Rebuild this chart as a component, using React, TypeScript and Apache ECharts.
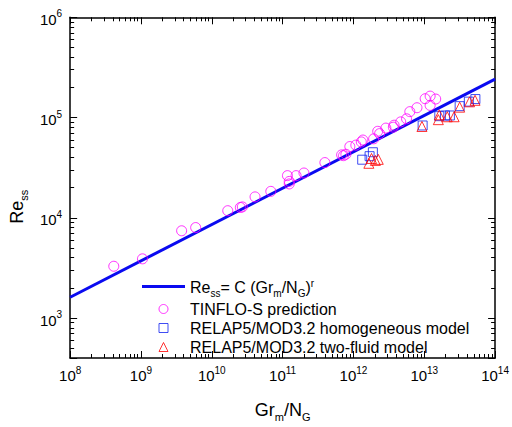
import React, { useEffect, useRef } from 'react';
import * as echarts from 'echarts';

const FONT = '"Liberation Sans", Arial, Helvetica, sans-serif';

// Correlation line Re_ss = C (Gr_m/N_G)^r (end points)
const fitX = [1e8, 1e14];
const fitY = [1615, 242000];

// TINFLO-S prediction
const tinfloX = [
  4.13e8, 1.05e9, 3.75e9, 5.92e9, 1.68e10, 2.53e10, 2.7e10, 4.08e10, 6.81e10,
  1.17e11, 1.24e11, 1.24e11, 1.55e11, 2.0e11, 3.95e11, 6.81e11, 7.24e11, 7.82e11,
  8.89e11, 1.08e12, 1.29e12, 1.36e12, 1.93e12, 2.2e12, 2.34e12, 2.87e12, 3.66e12,
  3.75e12, 4.65e12, 5.62e12, 6.25e12, 7.89e12, 1.03e13, 1.21e13, 1.45e13, 1.21e13,
];
const tinfloY = [
  3290, 3900, 7430, 8000, 11780, 12680, 12850, 16180, 18370,
  26360, 23070, 21780, 26360, 27990, 35560, 42460, 41690, 43050,
  51400, 53090, 57150, 59700, 61380, 72950, 69180, 78520, 80170,
  83950, 90570, 97270, 114550, 125310, 154180, 163680, 153110, 132130,
];

// RELAP5/MOD3.2 homogeneous model
const homX = [1.33e12, 1.69e12, 1.88e12, 9.48e12, 1.63e13, 1.96e13, 2.3e13, 3.16e13, 4.26e13, 5.27e13];
const homY = [38000, 41200, 45100, 83400, 103300, 104900, 104900, 130000, 144200, 153000];

// RELAP5/MOD3.2 two-fluid model
const twoX = [1.65e12, 1.8e12, 2.04e12, 2.24e12, 9.27e12, 1.58e13, 1.63e13, 2.11e13, 2.64e13, 3.16e13, 4.36e13, 5.21e13];
const twoY = [35000, 39100, 37400, 38300, 81500, 95300, 106500, 101900, 101900, 127000, 143600, 148600];

const xMin = 1e8;
const xMax = 1e14;
const yMin = 400;
const yMax = 1e6;

const names = {
  fit: 'fit',
  tinflo: 'TINFLO-S prediction',
  hom: 'RELAP5/MOD3.2 homogeneous model',
  two: 'RELAP5/MOD3.2 two-fluid model',
};

const colors = {
  fit: '#0a0af0',
  tinflo: '#ff00ff',
  hom: '#1020f0',
  two: '#ff0000',
};

const zip = (xs: number[], ys: number[]) => xs.map((x, i) => [x, ys[i]]);

const powLabel = (v: number) => {
  const l = Math.log10(v);
  const e = Math.round(l);
  if (Math.abs(l - e) > 1e-6) return '';
  return `{b|10}{s|${e}}`;
};

const tickRich = {
  b: { fontSize: 15, fontFamily: FONT, color: '#000', verticalAlign: 'top', padding: [4, 0, 0, 0] },
  s: { fontSize: 10, fontFamily: FONT, color: '#000', verticalAlign: 'top', padding: [1, 0, 0, 0] },
};

const tickCommon = {
  axisTick: { show: true, inside: true, length: 7, lineStyle: { color: '#000', width: 1 } },
  minorTick: { show: true, splitNumber: 9, length: 4, lineStyle: { color: '#000', width: 1 } },
  axisLine: { show: true, onZero: false, lineStyle: { color: '#000', width: 1.5 } },
  splitLine: { show: false },
  minorSplitLine: { show: false },
};

const hollow = (c: string) => ({ color: 'transparent', borderColor: c, borderWidth: 1 });

export default function App() {
  const ref = useRef<HTMLDivElement>(null);
  useEffect(() => {
    if (!ref.current) return;
    const chart = echarts.init(ref.current, undefined, { renderer: 'svg' });
    chart.setOption({
      animation: false,
      backgroundColor: '#fff',
      grid: { left: 65.7, right: 14.3, top: 17.3, bottom: 58, containLabel: false },
      xAxis: [
        {
          type: 'log', logBase: 10, min: xMin, max: xMax, position: 'bottom',
          ...tickCommon,
          axisLabel: { show: true, margin: 6, formatter: powLabel, rich: tickRich, showMinLabel: true, showMaxLabel: true },
          name: '{n|Gr}{sub|m}{n|/N}{sub|G}',
          nameLocation: 'middle',
          nameGap: 43,
          nameTextStyle: {
            color: '#000', fontFamily: FONT, fontSize: 18,
            rich: {
              n: { fontSize: 18, fontFamily: FONT, color: '#000', verticalAlign: 'top' },
              sub: { fontSize: 11, fontFamily: FONT, color: '#000', verticalAlign: 'top', padding: [10, 0, 0, 0] },
            },
          },
        },
        {
          type: 'log', logBase: 10, min: xMin, max: xMax, position: 'top',
          ...tickCommon,
          axisLabel: { show: false },
        },
      ],
      yAxis: [
        {
          type: 'log', logBase: 10, min: yMin, max: yMax, position: 'left',
          ...tickCommon,
          axisLabel: { show: true, margin: 8, formatter: powLabel, rich: tickRich, showMinLabel: true, showMaxLabel: true },
          name: '{n|Re}{sub|ss}',
          nameLocation: 'middle',
          nameGap: 38,
          nameTextStyle: {
            color: '#000', fontFamily: FONT, fontSize: 18,
            padding: [0, 38, 0, 0],
            rich: {
              n: { fontSize: 18, fontFamily: FONT, color: '#000', verticalAlign: 'top' },
              sub: { fontSize: 11, fontFamily: FONT, color: '#000', verticalAlign: 'top', padding: [10, 0, 0, 0] },
            },
          },
        },
        {
          type: 'log', logBase: 10, min: yMin, max: yMax, position: 'right',
          ...tickCommon,
          axisLabel: { show: false },
        },
      ],
      legend: {
        orient: 'vertical',
        left: 142,
        top: 278,
        padding: 0,
        itemGap: 3,
        itemWidth: 43,
        itemHeight: 9,
        symbolKeepAspect: true,
        data: [
          { name: names.fit, icon: 'path://M0 0H43V3H0Z', itemStyle: { color: colors.fit, borderWidth: 0 } },
          { name: names.tinflo, icon: 'circle', itemStyle: hollow(colors.tinflo) },
          { name: names.hom, icon: 'path://M0 0H10V10H0Z', itemStyle: hollow(colors.hom) },
          { name: names.two, icon: 'path://M5 0L10 10H0Z', itemStyle: hollow(colors.two) },
        ],
        formatter: (n: string) =>
          n === names.fit ? '{n|Re}{sub|ss}{n|= C (Gr}{sub|m}{n|/N}{sub|G}{n|)}{sup|r}' : n,
        textStyle: {
          color: '#000', fontFamily: FONT, fontSize: 16,
          rich: {
            n: { fontSize: 16, fontFamily: FONT, color: '#000', verticalAlign: 'top', padding: [4, 0, 0, 0] },
            sub: { fontSize: 10, fontFamily: FONT, color: '#000', verticalAlign: 'top', padding: [13, 0, 0, 0] },
            sup: { fontSize: 10, fontFamily: FONT, color: '#000', verticalAlign: 'top', padding: [3, 0, 0, 0] },
          },
        },
      },
      series: [
        {
          name: names.fit,
          type: 'line',
          data: zip(fitX, fitY),
          showSymbol: false,
          symbol: 'none',
          lineStyle: { color: colors.fit, width: 3 },
          itemStyle: { color: colors.fit },
          clip: true,
          z: 2,
        },
        {
          name: names.tinflo,
          type: 'scatter',
          data: zip(tinfloX, tinfloY),
          symbol: 'circle',
          symbolSize: 10,
          itemStyle: hollow(colors.tinflo),
          z: 3,
        },
        {
          name: names.hom,
          type: 'scatter',
          data: zip(homX, homY),
          symbol: 'rect',
          symbolSize: 9,
          itemStyle: hollow(colors.hom),
          z: 4,
        },
        {
          name: names.two,
          type: 'scatter',
          data: zip(twoX, twoY),
          symbol: 'triangle',
          symbolSize: 10,
          itemStyle: hollow(colors.two),
          z: 5,
        },
      ],
    });
    return () => chart.dispose();
  }, []);
  return (
    <div
      ref={ref}
      style={{ position: 'fixed', left: 0, top: 0, width: 512, height: 427, background: '#fff' }}
    />
  );
}
